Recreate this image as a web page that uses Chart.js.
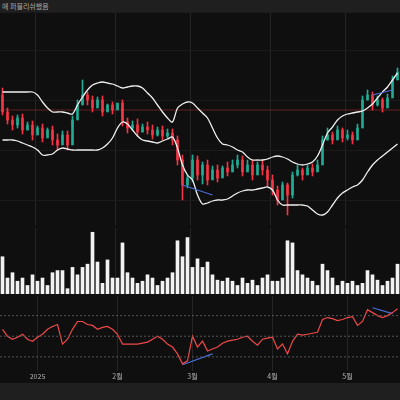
<!DOCTYPE html>
<html><head><meta charset="utf-8">
<script src="https://cdn.jsdelivr.net/npm/chart.js@4"></script>
<style>
html,body{margin:0;padding:0;background:#0f0f0f;width:400px;height:400px;overflow:hidden;font-family:"Noto Sans CJK KR","Noto Sans",sans-serif}
#hdr{position:absolute;left:0;top:0;width:400px;height:12px;background:#1f1f1f;color:#aaa;font-size:7px;line-height:12px;padding-left:2px}
#ftr{position:absolute;left:0;top:383px;width:400px;height:17px;background:#1f1f1f}
.c{position:absolute;left:0;width:400px}
</style></head><body>
<div id="hdr">에 퍼블리쉬했음</div>
<div class="c" style="top:12px;height:213px"><canvas id="p"></canvas></div>
<div class="c" style="top:228px;height:66px"><canvas id="v"></canvas></div>
<div class="c" style="top:296px;height:87px"><canvas id="r"></canvas></div>
<div id="ftr"></div>
<script>
// price values are in chart pixel units on a reversed axis (smaller = higher price)
const opens =  [95,112,120,125,118,130,125,135,128,138,130,140,145,135,145,120,105,95,100,108,100,112,105,110,103,122,128,125,132,127,130,135,130,136,133,140,160,185,178,160,175,165,180,170,178,168,172,165,160,172,165,175,165,170,180,190,200,185,195,175,170,175,168,172,165,140,135,140,130,138,135,140,128,100,95,105,100,108,98,80];
const closes = [112,120,125,118,130,125,135,128,138,130,140,145,135,145,120,105,95,100,108,100,112,105,110,103,122,128,125,132,127,130,135,130,136,133,140,160,185,178,160,175,165,180,170,178,168,172,165,160,172,165,175,165,170,180,190,200,185,195,175,170,175,168,172,165,140,135,140,130,138,135,140,128,100,95,105,100,108,98,80,72];
const highs =  [88,108,116,115,114,122,121,126,124,128,126,134,131,131,116,100,80,92,96,97,96,104,102,104,100,118,121,119,124,122,125,127,126,129,129,136,155,175,155,156,162,160,166,165,166,162,160,155,156,160,160,162,160,166,175,186,182,183,172,165,168,165,164,160,136,128,132,126,128,130,132,124,96,90,92,96,98,94,76,68];
const lows =   [115,124,130,128,134,130,140,132,142,135,145,150,140,150,125,110,104,105,112,105,116,110,114,108,126,133,130,136,132,134,139,136,140,138,145,165,200,188,182,180,184,185,178,182,175,176,170,168,176,170,180,170,175,186,195,205,190,215,198,176,180,174,176,170,145,140,144,138,142,140,144,132,106,100,110,106,112,102,86,76];
const upper = [92,92,92,92,92,92,92,95,102,108,112,112,112,113,114,105,97,90,85,83,82,83,84,86,88,87,86,86,88,93,98,105,112,118,122,108,104,102,103,108,113,118,128,138,144,145,147,150,152,157,160,160,160,159,157,156,157,159,162,164,165,164,162,156,145,133,127,120,116,114,113,112,111,108,104,98,92,87,80,73];
const lower = [140,140,140,141,143,145,147,150,155,155,154,150,148,149,150,150,150,150,150,150,148,144,138,128,122,124,130,136,140,141,142,143,141,139,137,148,165,175,180,195,204,203,201,200,200,199,196,193,191,190,190,189,188,187,190,200,205,205,205,205,205,206,210,214,215,212,205,198,193,190,187,185,180,172,165,160,156,152,148,144];
const volume = [35,15,20,12,15,8,18,12,15,8,20,22,22,5,25,18,25,28,58,30,10,32,15,15,48,20,15,10,12,18,15,8,12,15,20,50,35,53,25,33,25,30,18,13,12,15,12,8,15,10,13,8,15,18,12,12,15,50,48,22,18,15,12,8,28,22,15,8,12,10,12,8,10,22,18,13,8,12,15,28];
const rsi = [56.7,50,47.1,49,51.9,47.1,45.2,49,51.9,56.7,59.5,61.4,42.4,47.1,56.7,64.3,64.3,61.4,60.5,56.7,58.6,59.5,56.7,51.9,42.4,42.4,42.4,42.4,43.3,44.3,47.1,50,47.1,42.4,39.5,32.9,23.3,26.2,50,39.5,45.2,35.7,37.6,39.5,43.3,45.2,46.2,47.1,49,50,45.2,41.4,47.1,48.1,49,37.6,42.4,32.9,45.2,51.9,51,51.9,52.9,53.8,66.2,68.1,67.1,65.2,66.2,68.1,69,60.5,64.3,75.7,72.9,70,68.1,70,72.9,76.7];
const tickLabels = {7:"2025",23:"2월",38:"3월",54:"4월",69:"5월"};
const labels = closes.map((_, i) => i);
const trendP = [[36,185],[42,195],[74,95],[78,90]];
const trendR = [[36,22.4],[42,32.9],[74,77.6],[78,71.9]];
const RED='#f23645', GREEN='#22ab94';
const col = ctx => closes[ctx.dataIndex] > opens[ctx.dataIndex] ? RED : GREEN; // reversed axis: larger = lower
function seg(pts,a,b){const arr=labels.map(()=>null);arr[pts[a][0]]=pts[a][1];arr[pts[b][0]]=pts[b][1];return arr;}
const xGrid = {display:true,color:ctx=>tickLabels[ctx.index]!==undefined?'#242424':'transparent',drawTicks:false};
function xs(show){return {type:'category',offset:true,border:{display:false},grid:xGrid,
  ticks:{display:show,autoSkip:false,maxRotation:0,color:'#b0b0b0',font:{size:7,family:'Noto Sans CJK KR'},padding:2,callback:(v,i)=>tickLabels[i]??''}};}
function ys(min,max,extra){return Object.assign({min,max,border:{display:false},ticks:{display:false},afterFit:s=>{s.width=0},grid:{color:'#1b1b1b',drawTicks:false}},extra||{});}
const base={responsive:true,maintainAspectRatio:false,animation:false,layout:{padding:0},plugins:{legend:{display:false},tooltip:{enabled:false}}};
const hline=(y,color,dash)=>({id:'h'+y,afterDatasetsDraw(c){const s=c.scales.y,a=c.chartArea,g=c.ctx,py=s.getPixelForValue(y);g.save();g.strokeStyle=color;g.lineWidth=1;g.setLineDash(dash);g.beginPath();g.moveTo(a.left,py);g.lineTo(a.right,py);g.stroke();g.restore();}});
new Chart(document.getElementById('p'),{type:'bar',data:{labels,datasets:[
  {data:labels.map(i=>[lows[i],highs[i]]),backgroundColor:col,barThickness:1,grouped:false,order:3},
  {data:labels.map(i=>[opens[i],closes[i]]),backgroundColor:col,barThickness:2,grouped:false,order:2},
  {type:'line',data:upper,borderColor:'#f0f0f0',borderWidth:1.3,pointRadius:0,tension:0.3,order:1},
  {type:'line',data:lower,borderColor:'#f0f0f0',borderWidth:1.3,pointRadius:0,tension:0.3,order:1},
  {type:'line',data:seg(trendP,0,1),borderColor:'#4a6fd8',borderWidth:1.2,pointRadius:0,spanGaps:true,order:0},
  {type:'line',data:seg(trendP,2,3),borderColor:'#4a6fd8',borderWidth:1.2,pointRadius:0,spanGaps:true,order:0}
]},options:{...base,scales:{x:xs(false),y:ys(12,225,{reverse:true})}},plugins:[{id:'bg',beforeDatasetsDraw(c){const s=c.scales.y,a=c.chartArea,g=c.ctx,py=s.getPixelForValue(110);g.save();g.strokeStyle='rgba(140,40,40,0.7)';g.lineWidth=1;g.beginPath();g.moveTo(a.left,py);g.lineTo(a.right,py);g.stroke();g.restore();}}]});
new Chart(document.getElementById('v'),{type:'bar',data:{labels,datasets:[
  {data:volume,backgroundColor:'#f2f2f2',barThickness:3}
]},options:{...base,scales:{x:xs(false),y:ys(0,62,{grid:{display:false}})}}});
new Chart(document.getElementById('r'),{type:'line',data:{labels,datasets:[
  {data:rsi,borderColor:'#f04848',borderWidth:1.2,pointRadius:0},
  {data:seg(trendR,0,1),borderColor:'#4a6fd8',borderWidth:1.2,pointRadius:0,spanGaps:true},
  {data:seg(trendR,2,3),borderColor:'#4a6fd8',borderWidth:1.2,pointRadius:0,spanGaps:true}
]},options:{...base,scales:{x:xs(true),y:ys(16.7,89,{grid:{display:false}})}},plugins:[hline(70,'#555',[2,2]),hline(50,'#555',[2,2]),hline(30,'#555',[2,2])]});
</script></body></html>
